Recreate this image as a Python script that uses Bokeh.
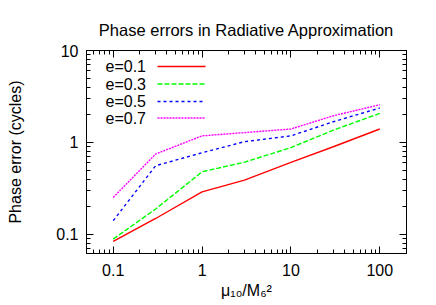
from bokeh.plotting import figure
from bokeh.models import (FixedTicker, LogAxis, Label, Arrow, CustomJSTickFormatter, Range1d)
from bokeh.embed import file_html
from bokeh.resources import INLINE

# ---- data ----
mass_ratio = [0.1, 0.3, 1, 3, 10, 30, 100]
err_e01 = [0.084, 0.149, 0.29, 0.39, 0.607, 0.898, 1.40]
err_e03 = [0.089, 0.189, 0.48, 0.61, 0.88, 1.36, 2.07]
err_e05 = [0.141, 0.558, 0.773, 1.02, 1.18, 1.68, 2.37]
err_e07 = [0.252, 0.748, 1.18, 1.28, 1.40, 1.95, 2.57]
series_labels = ["e=0.1", "e=0.3", "e=0.5", "e=0.7"]
x_tick_values = [0.1, 1, 10, 100]
x_tick_labels = ["0.1", "1", "10", "100"]
y_tick_values = [0.1, 1, 10]
y_tick_labels = ["0.1", "1", "10"]
title_text = "Phase errors in Radiative Approximation"
y_label_text = "Phase error (cycles)"
x_label_text = "\u03bc\u2081\u2080/M\u2086\u00b2"

FONT = "Liberation Sans"
FS = "16px"
W, H = 436, 305
ML, MR, MT, MB = 86, 30, 50, 52

p = figure(width=W, height=H, x_axis_type="log", y_axis_type="log",
           x_range=Range1d(0.05, 200), y_range=Range1d(0.062, 10),
           output_backend="svg", toolbar_location=None,
           min_border_left=ML, min_border_right=MR, min_border_top=MT, min_border_bottom=MB)
p.xgrid.visible = False
p.ygrid.visible = False
p.outline_line_color = "black"
p.outline_line_width = 1
p.background_fill_color = "white"
p.border_fill_color = "white"

p.title.text = title_text
p.title.align = "center"
p.title.text_font = FONT
p.title.text_font_size = "16.5px"
p.title.text_font_style = "normal"
p.title.text_color = "black"
p.title.standoff = 24

x_minor = [m * 10.0 ** k for k in range(-2, 3) for m in range(2, 10)]
x_minor = [v for v in x_minor if 0.05 <= v <= 200]
y_minor = [m * 10.0 ** k for k in range(-2, 2) for m in range(2, 10)]
y_minor = [v for v in y_minor if 0.062 <= v <= 10]

def style(ax, ticks, minors, labels, standoff):
    ax.ticker = FixedTicker(ticks=ticks, minor_ticks=minors)
    ax.major_tick_in = 7
    ax.major_tick_out = 0
    ax.minor_tick_in = 4
    ax.minor_tick_out = 0
    ax.axis_line_color = "black"
    ax.major_tick_line_color = "black"
    ax.minor_tick_line_color = "black"
    ax.major_label_text_font = FONT
    ax.major_label_text_font_size = FS
    ax.major_label_text_color = "black"
    ax.major_label_standoff = standoff
    ax.axis_label_text_font = FONT
    ax.axis_label_text_font_size = FS
    ax.axis_label_text_font_style = "normal"
    ax.axis_label_text_color = "black"
    if labels is None:
        ax.formatter = CustomJSTickFormatter(code="return ''")
        ax.major_label_text_font_size = "0px"
        ax.major_label_standoff = 0
    else:
        ax.major_label_overrides = dict(zip(ticks, labels))

xa = p.xaxis[0]
ya = p.yaxis[0]
style(xa, x_tick_values, x_minor, x_tick_labels, 10)
style(ya, y_tick_values, y_minor, y_tick_labels, 8)
xa.axis_label = x_label_text
xa.axis_label_standoff = 3
ya.axis_label = y_label_text
ya.axis_label_standoff = 29

top = LogAxis()
p.add_layout(top, "above")
style(top, x_tick_values, x_minor, None, 0)
right = LogAxis()
p.add_layout(right, "right")
style(right, y_tick_values, y_minor, None, 0)

colors = ["#ff0000", "#00ff00", "#0000ff", "#ff00ff"]
dashes = ["solid", "5 2", "3 3", "2 1"]
series = [err_e01, err_e03, err_e05, err_e07]
for ys, c, d in zip(series, colors, dashes):
    p.line(mass_ratio, ys, line_color=c, line_width=1.4, line_dash=d)

# legend (text left, sample right), frame-relative screen units
leg_y = [187, 169.5, 152, 135.5]
for lab, c, d, yy in zip(series_labels, colors, dashes, leg_y):
    p.add_layout(Label(x=19, y=yy, x_units="screen", y_units="screen", text=lab,
                       text_font=FONT, text_font_size=FS, text_align="left",
                       text_baseline="middle", text_color="black"))
    p.add_layout(Arrow(end=None, x_start=71, y_start=yy, x_end=119, y_end=yy,
                       start_units="screen", end_units="screen",
                       line_color=c, line_width=1.4, line_dash=d))

open("out.html", "w").write(file_html(p, INLINE))
